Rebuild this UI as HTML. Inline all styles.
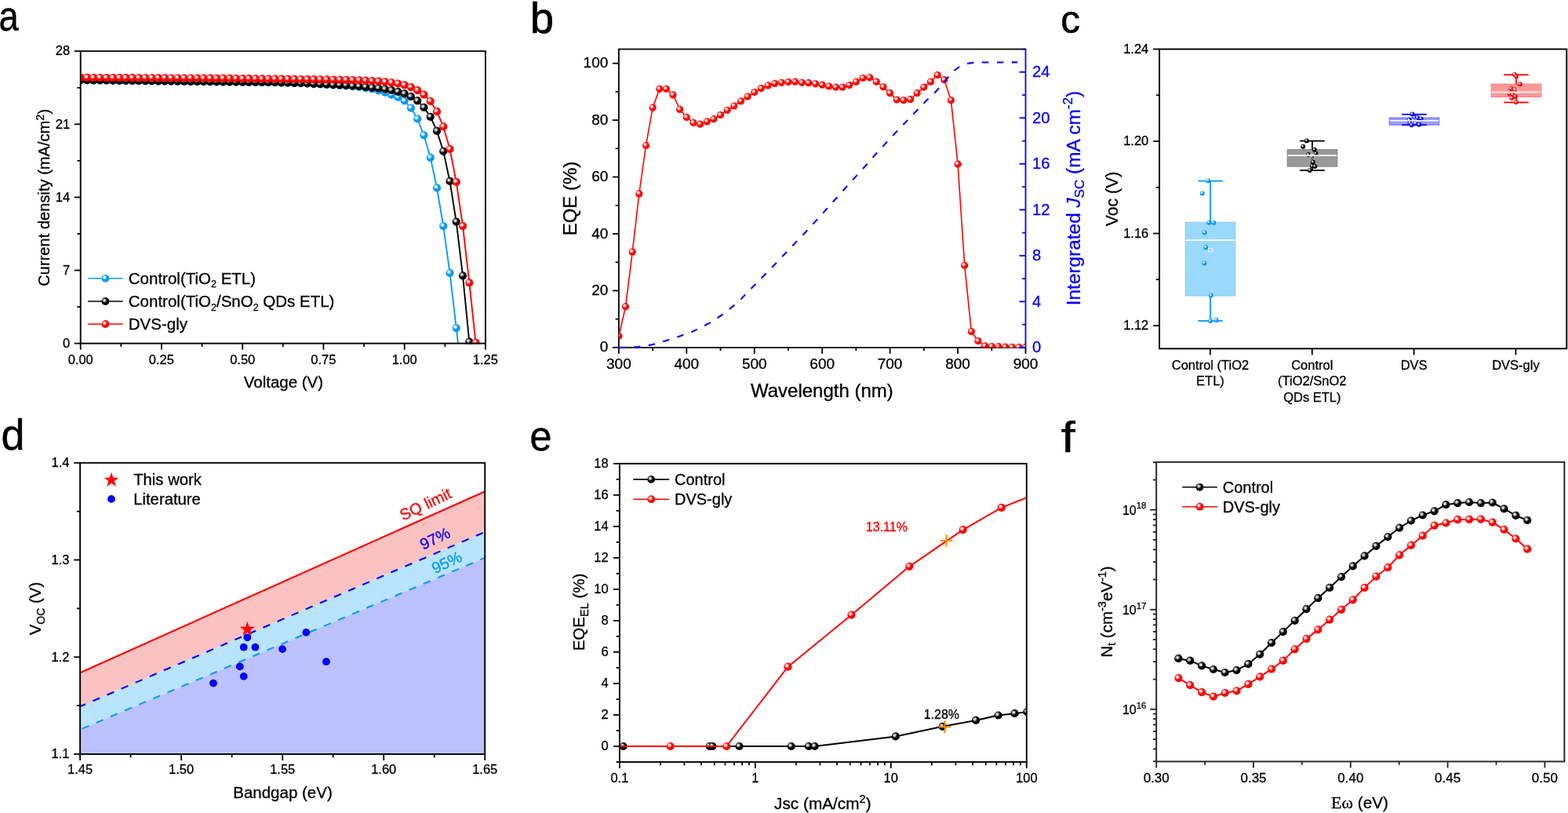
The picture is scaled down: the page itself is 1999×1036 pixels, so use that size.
<!DOCTYPE html>
<html lang="en"><head><meta charset="utf-8"><title>Figure</title>
<style>html,body{margin:0;padding:0;background:#fff;overflow:hidden;}svg{display:block;font-family:"Liberation Sans", sans-serif;}</style>
</head><body>
<svg width="1999" height="1036" viewBox="0 0 1999 1036">
<rect width="1999" height="1036" fill="#fff"/>
<defs>
<radialGradient id="gR" cx="0.375" cy="0.365" r="0.33"><stop offset="0" stop-color="#fff"/><stop offset="0.25" stop-color="#fff"/><stop offset="1" stop-color="#ff0000"/></radialGradient>
<radialGradient id="gK" cx="0.375" cy="0.365" r="0.33"><stop offset="0" stop-color="#e4e4e4"/><stop offset="0.25" stop-color="#e4e4e4"/><stop offset="1" stop-color="#000000"/></radialGradient>
<radialGradient id="gB" cx="0.375" cy="0.365" r="0.33"><stop offset="0" stop-color="#fff"/><stop offset="0.25" stop-color="#fff"/><stop offset="1" stop-color="#0899fa"/></radialGradient>
<radialGradient id="gV" cx="0.375" cy="0.365" r="0.33"><stop offset="0" stop-color="#fff"/><stop offset="0.25" stop-color="#fff"/><stop offset="1" stop-color="#0000ff"/></radialGradient>
</defs>
<clipPath id="ca"><rect x="102.7" y="65.2" width="516.2" height="373.4"/></clipPath>
<g clip-path="url(#ca)">
<polyline fill="none" stroke="#0899fa" stroke-width="1.9" stroke-linejoin="round" points="102.7,102.2 111,102.3 119.2,102.4 127.5,102.5 135.7,102.6 144,102.7 152.3,102.8 160.5,102.9 168.8,103 177,103.1 185.3,103.2 193.6,103.3 201.8,103.4 210.1,103.5 218.3,103.6 226.6,103.7 234.8,103.8 243.1,103.9 251.4,104 259.6,104.1 267.9,104.2 276.1,104.3 284.4,104.4 292.7,104.5 300.9,104.6 309.2,104.7 317.4,104.8 325.7,104.8 334,104.9 342.2,105 350.5,105.1 358.7,105.4 367,105.7 375.3,105.9 383.5,106.2 391.8,106.5 400,107 408.3,107.5 416.5,107.9 424.8,108.4 433.1,108.9 441.3,109.3 449.6,110.1 457.8,110.9 466.1,112.2 474.4,113.5 482.6,115.5 490.9,118 499.1,120.8 507.4,124 515.7,128.4 523.9,137.6 532.2,151.5 540.4,172.3 548.7,200.8 557,239.4 565.2,288.1 573.5,347.8 581.7,418.1 584,437.6"/>
<g fill="url(#gB)"><circle cx="102.7" cy="102.2" r="5.1"/><circle cx="111" cy="102.3" r="5.1"/><circle cx="119.2" cy="102.4" r="5.1"/><circle cx="127.5" cy="102.5" r="5.1"/><circle cx="135.7" cy="102.6" r="5.1"/><circle cx="144" cy="102.7" r="5.1"/><circle cx="152.3" cy="102.8" r="5.1"/><circle cx="160.5" cy="102.9" r="5.1"/><circle cx="168.8" cy="103" r="5.1"/><circle cx="177" cy="103.1" r="5.1"/><circle cx="185.3" cy="103.2" r="5.1"/><circle cx="193.6" cy="103.3" r="5.1"/><circle cx="201.8" cy="103.4" r="5.1"/><circle cx="210.1" cy="103.5" r="5.1"/><circle cx="218.3" cy="103.6" r="5.1"/><circle cx="226.6" cy="103.7" r="5.1"/><circle cx="234.8" cy="103.8" r="5.1"/><circle cx="243.1" cy="103.9" r="5.1"/><circle cx="251.4" cy="104" r="5.1"/><circle cx="259.6" cy="104.1" r="5.1"/><circle cx="267.9" cy="104.2" r="5.1"/><circle cx="276.1" cy="104.3" r="5.1"/><circle cx="284.4" cy="104.4" r="5.1"/><circle cx="292.7" cy="104.5" r="5.1"/><circle cx="300.9" cy="104.6" r="5.1"/><circle cx="309.2" cy="104.7" r="5.1"/><circle cx="317.4" cy="104.8" r="5.1"/><circle cx="325.7" cy="104.8" r="5.1"/><circle cx="334" cy="104.9" r="5.1"/><circle cx="342.2" cy="105" r="5.1"/><circle cx="350.5" cy="105.1" r="5.1"/><circle cx="358.7" cy="105.4" r="5.1"/><circle cx="367" cy="105.7" r="5.1"/><circle cx="375.3" cy="105.9" r="5.1"/><circle cx="383.5" cy="106.2" r="5.1"/><circle cx="391.8" cy="106.5" r="5.1"/><circle cx="400" cy="107" r="5.1"/><circle cx="408.3" cy="107.5" r="5.1"/><circle cx="416.5" cy="107.9" r="5.1"/><circle cx="424.8" cy="108.4" r="5.1"/><circle cx="433.1" cy="108.9" r="5.1"/><circle cx="441.3" cy="109.3" r="5.1"/><circle cx="449.6" cy="110.1" r="5.1"/><circle cx="457.8" cy="110.9" r="5.1"/><circle cx="466.1" cy="112.2" r="5.1"/><circle cx="474.4" cy="113.5" r="5.1"/><circle cx="482.6" cy="115.5" r="5.1"/><circle cx="490.9" cy="118" r="5.1"/><circle cx="499.1" cy="120.8" r="5.1"/><circle cx="507.4" cy="124" r="5.1"/><circle cx="515.7" cy="128.4" r="5.1"/><circle cx="523.9" cy="137.6" r="5.1"/><circle cx="532.2" cy="151.5" r="5.1"/><circle cx="540.4" cy="172.3" r="5.1"/><circle cx="548.7" cy="200.8" r="5.1"/><circle cx="557" cy="239.4" r="5.1"/><circle cx="565.2" cy="288.1" r="5.1"/><circle cx="573.5" cy="347.8" r="5.1"/><circle cx="581.7" cy="418.1" r="5.1"/></g>
<polyline fill="none" stroke="#000" stroke-width="1.9" stroke-linejoin="round" points="102.7,102.1 111,102.2 119.2,102.3 127.5,102.4 135.7,102.5 144,102.6 152.3,102.7 160.5,102.8 168.8,102.9 177,103 185.3,103.1 193.6,103.2 201.8,103.3 210.1,103.4 218.3,103.5 226.6,103.6 234.8,103.7 243.1,103.8 251.4,103.9 259.6,104 267.9,104.1 276.1,104.2 284.4,104.3 292.7,104.4 300.9,104.5 309.2,104.6 317.4,104.7 325.7,104.7 334,104.8 342.2,104.9 350.5,105 358.7,105.3 367,105.5 375.3,105.8 383.5,106 391.8,106.3 400,106.8 408.3,107.2 416.5,107.6 424.8,108.1 433.1,108.4 441.3,108.8 449.6,109.5 457.8,110 466.1,110.8 474.4,111.6 482.6,112.5 490.9,113.6 499.1,115 507.4,116.9 515.7,119.4 523.9,123.1 532.2,128.4 540.4,136.9 548.7,148.8 557,166.9 565.2,192.8 573.5,230.9 581.7,282.6 590,351.3 598.3,435.7"/>
<g fill="url(#gK)"><circle cx="102.7" cy="102.1" r="5.1"/><circle cx="111" cy="102.2" r="5.1"/><circle cx="119.2" cy="102.3" r="5.1"/><circle cx="127.5" cy="102.4" r="5.1"/><circle cx="135.7" cy="102.5" r="5.1"/><circle cx="144" cy="102.6" r="5.1"/><circle cx="152.3" cy="102.7" r="5.1"/><circle cx="160.5" cy="102.8" r="5.1"/><circle cx="168.8" cy="102.9" r="5.1"/><circle cx="177" cy="103" r="5.1"/><circle cx="185.3" cy="103.1" r="5.1"/><circle cx="193.6" cy="103.2" r="5.1"/><circle cx="201.8" cy="103.3" r="5.1"/><circle cx="210.1" cy="103.4" r="5.1"/><circle cx="218.3" cy="103.5" r="5.1"/><circle cx="226.6" cy="103.6" r="5.1"/><circle cx="234.8" cy="103.7" r="5.1"/><circle cx="243.1" cy="103.8" r="5.1"/><circle cx="251.4" cy="103.9" r="5.1"/><circle cx="259.6" cy="104" r="5.1"/><circle cx="267.9" cy="104.1" r="5.1"/><circle cx="276.1" cy="104.2" r="5.1"/><circle cx="284.4" cy="104.3" r="5.1"/><circle cx="292.7" cy="104.4" r="5.1"/><circle cx="300.9" cy="104.5" r="5.1"/><circle cx="309.2" cy="104.6" r="5.1"/><circle cx="317.4" cy="104.7" r="5.1"/><circle cx="325.7" cy="104.7" r="5.1"/><circle cx="334" cy="104.8" r="5.1"/><circle cx="342.2" cy="104.9" r="5.1"/><circle cx="350.5" cy="105" r="5.1"/><circle cx="358.7" cy="105.3" r="5.1"/><circle cx="367" cy="105.5" r="5.1"/><circle cx="375.3" cy="105.8" r="5.1"/><circle cx="383.5" cy="106" r="5.1"/><circle cx="391.8" cy="106.3" r="5.1"/><circle cx="400" cy="106.8" r="5.1"/><circle cx="408.3" cy="107.2" r="5.1"/><circle cx="416.5" cy="107.6" r="5.1"/><circle cx="424.8" cy="108.1" r="5.1"/><circle cx="433.1" cy="108.4" r="5.1"/><circle cx="441.3" cy="108.8" r="5.1"/><circle cx="449.6" cy="109.5" r="5.1"/><circle cx="457.8" cy="110" r="5.1"/><circle cx="466.1" cy="110.8" r="5.1"/><circle cx="474.4" cy="111.6" r="5.1"/><circle cx="482.6" cy="112.5" r="5.1"/><circle cx="490.9" cy="113.6" r="5.1"/><circle cx="499.1" cy="115" r="5.1"/><circle cx="507.4" cy="116.9" r="5.1"/><circle cx="515.7" cy="119.4" r="5.1"/><circle cx="523.9" cy="123.1" r="5.1"/><circle cx="532.2" cy="128.4" r="5.1"/><circle cx="540.4" cy="136.9" r="5.1"/><circle cx="548.7" cy="148.8" r="5.1"/><circle cx="557" cy="166.9" r="5.1"/><circle cx="565.2" cy="192.8" r="5.1"/><circle cx="573.5" cy="230.9" r="5.1"/><circle cx="581.7" cy="282.6" r="5.1"/><circle cx="590" cy="351.3" r="5.1"/><circle cx="598.3" cy="435.7" r="5.1"/></g>
<polyline fill="none" stroke="#ff0000" stroke-width="1.9" stroke-linejoin="round" points="102.7,98.9 111,98.9 119.2,99 127.5,99 135.7,99.1 144,99.1 152.3,99.1 160.5,99.2 168.8,99.2 177,99.3 185.3,99.3 193.6,99.3 201.8,99.4 210.1,99.4 218.3,99.5 226.6,99.5 234.8,99.6 243.1,99.6 251.4,99.6 259.6,99.7 267.9,99.7 276.1,99.8 284.4,99.8 292.7,99.9 300.9,100 309.2,100.1 317.4,100.2 325.7,100.3 334,100.4 342.2,100.5 350.5,100.6 358.7,100.7 367,100.8 375.3,100.9 383.5,101 391.8,101.1 400,101.2 408.3,101.3 416.5,101.4 424.8,101.5 433.1,101.6 441.3,101.8 449.6,102 457.8,102.3 466.1,102.7 474.4,103.1 482.6,103.7 490.9,104.3 499.1,105.3 507.4,106.5 515.7,108.4 523.9,111.1 532.2,115.2 540.4,120.7 548.7,129 557,142.2 565.2,161.4 573.5,190 581.7,231.9 590,288.1 598.3,360.4 606.5,436.7"/>
<g fill="url(#gR)"><circle cx="102.7" cy="98.9" r="5.1"/><circle cx="111" cy="98.9" r="5.1"/><circle cx="119.2" cy="99" r="5.1"/><circle cx="127.5" cy="99" r="5.1"/><circle cx="135.7" cy="99.1" r="5.1"/><circle cx="144" cy="99.1" r="5.1"/><circle cx="152.3" cy="99.1" r="5.1"/><circle cx="160.5" cy="99.2" r="5.1"/><circle cx="168.8" cy="99.2" r="5.1"/><circle cx="177" cy="99.3" r="5.1"/><circle cx="185.3" cy="99.3" r="5.1"/><circle cx="193.6" cy="99.3" r="5.1"/><circle cx="201.8" cy="99.4" r="5.1"/><circle cx="210.1" cy="99.4" r="5.1"/><circle cx="218.3" cy="99.5" r="5.1"/><circle cx="226.6" cy="99.5" r="5.1"/><circle cx="234.8" cy="99.6" r="5.1"/><circle cx="243.1" cy="99.6" r="5.1"/><circle cx="251.4" cy="99.6" r="5.1"/><circle cx="259.6" cy="99.7" r="5.1"/><circle cx="267.9" cy="99.7" r="5.1"/><circle cx="276.1" cy="99.8" r="5.1"/><circle cx="284.4" cy="99.8" r="5.1"/><circle cx="292.7" cy="99.9" r="5.1"/><circle cx="300.9" cy="100" r="5.1"/><circle cx="309.2" cy="100.1" r="5.1"/><circle cx="317.4" cy="100.2" r="5.1"/><circle cx="325.7" cy="100.3" r="5.1"/><circle cx="334" cy="100.4" r="5.1"/><circle cx="342.2" cy="100.5" r="5.1"/><circle cx="350.5" cy="100.6" r="5.1"/><circle cx="358.7" cy="100.7" r="5.1"/><circle cx="367" cy="100.8" r="5.1"/><circle cx="375.3" cy="100.9" r="5.1"/><circle cx="383.5" cy="101" r="5.1"/><circle cx="391.8" cy="101.1" r="5.1"/><circle cx="400" cy="101.2" r="5.1"/><circle cx="408.3" cy="101.3" r="5.1"/><circle cx="416.5" cy="101.4" r="5.1"/><circle cx="424.8" cy="101.5" r="5.1"/><circle cx="433.1" cy="101.6" r="5.1"/><circle cx="441.3" cy="101.8" r="5.1"/><circle cx="449.6" cy="102" r="5.1"/><circle cx="457.8" cy="102.3" r="5.1"/><circle cx="466.1" cy="102.7" r="5.1"/><circle cx="474.4" cy="103.1" r="5.1"/><circle cx="482.6" cy="103.7" r="5.1"/><circle cx="490.9" cy="104.3" r="5.1"/><circle cx="499.1" cy="105.3" r="5.1"/><circle cx="507.4" cy="106.5" r="5.1"/><circle cx="515.7" cy="108.4" r="5.1"/><circle cx="523.9" cy="111.1" r="5.1"/><circle cx="532.2" cy="115.2" r="5.1"/><circle cx="540.4" cy="120.7" r="5.1"/><circle cx="548.7" cy="129" r="5.1"/><circle cx="557" cy="142.2" r="5.1"/><circle cx="565.2" cy="161.4" r="5.1"/><circle cx="573.5" cy="190" r="5.1"/><circle cx="581.7" cy="231.9" r="5.1"/><circle cx="590" cy="288.1" r="5.1"/><circle cx="598.3" cy="360.4" r="5.1"/><circle cx="606.5" cy="436.7" r="5.1"/></g>
</g>
<rect x="102.7" y="65.2" width="516.2" height="372.4" fill="none" stroke="#000" stroke-width="1.9"/>
<line x1="102.7" y1="437.6" x2="102.7" y2="445.6" stroke="#000" stroke-width="1.8"/>
<text x="102.7" y="463.8" font-size="16.5" text-anchor="middle" fill="#000" stroke="#000" stroke-width="0.3">0.00</text>
<line x1="154.3" y1="437.6" x2="154.3" y2="441.9" stroke="#000" stroke-width="1.8"/>
<line x1="205.9" y1="437.6" x2="205.9" y2="445.6" stroke="#000" stroke-width="1.8"/>
<text x="205.9" y="463.8" font-size="16.5" text-anchor="middle" fill="#000" stroke="#000" stroke-width="0.3">0.25</text>
<line x1="257.6" y1="437.6" x2="257.6" y2="441.9" stroke="#000" stroke-width="1.8"/>
<line x1="309.2" y1="437.6" x2="309.2" y2="445.6" stroke="#000" stroke-width="1.8"/>
<text x="309.2" y="463.8" font-size="16.5" text-anchor="middle" fill="#000" stroke="#000" stroke-width="0.3">0.50</text>
<line x1="360.8" y1="437.6" x2="360.8" y2="441.9" stroke="#000" stroke-width="1.8"/>
<line x1="412.4" y1="437.6" x2="412.4" y2="445.6" stroke="#000" stroke-width="1.8"/>
<text x="412.4" y="463.8" font-size="16.5" text-anchor="middle" fill="#000" stroke="#000" stroke-width="0.3">0.75</text>
<line x1="464" y1="437.6" x2="464" y2="441.9" stroke="#000" stroke-width="1.8"/>
<line x1="515.7" y1="437.6" x2="515.7" y2="445.6" stroke="#000" stroke-width="1.8"/>
<text x="515.7" y="463.8" font-size="16.5" text-anchor="middle" fill="#000" stroke="#000" stroke-width="0.3">1.00</text>
<line x1="567.3" y1="437.6" x2="567.3" y2="441.9" stroke="#000" stroke-width="1.8"/>
<line x1="618.9" y1="437.6" x2="618.9" y2="445.6" stroke="#000" stroke-width="1.8"/>
<text x="618.9" y="463.8" font-size="16.5" text-anchor="middle" fill="#000" stroke="#000" stroke-width="0.3">1.25</text>
<line x1="94.7" y1="437.6" x2="102.7" y2="437.6" stroke="#000" stroke-width="1.8"/>
<text x="89.2" y="442.8" font-size="16.5" text-anchor="end" fill="#000" stroke="#000" stroke-width="0.3">0</text>
<line x1="98.4" y1="391.1" x2="102.7" y2="391.1" stroke="#000" stroke-width="1.8"/>
<line x1="94.7" y1="344.5" x2="102.7" y2="344.5" stroke="#000" stroke-width="1.8"/>
<text x="89.2" y="349.7" font-size="16.5" text-anchor="end" fill="#000" stroke="#000" stroke-width="0.3">7</text>
<line x1="98.4" y1="298" x2="102.7" y2="298" stroke="#000" stroke-width="1.8"/>
<line x1="94.7" y1="251.4" x2="102.7" y2="251.4" stroke="#000" stroke-width="1.8"/>
<text x="89.2" y="256.6" font-size="16.5" text-anchor="end" fill="#000" stroke="#000" stroke-width="0.3">14</text>
<line x1="98.4" y1="204.8" x2="102.7" y2="204.8" stroke="#000" stroke-width="1.8"/>
<line x1="94.7" y1="158.3" x2="102.7" y2="158.3" stroke="#000" stroke-width="1.8"/>
<text x="89.2" y="163.5" font-size="16.5" text-anchor="end" fill="#000" stroke="#000" stroke-width="0.3">21</text>
<line x1="98.4" y1="111.8" x2="102.7" y2="111.8" stroke="#000" stroke-width="1.8"/>
<line x1="94.7" y1="65.2" x2="102.7" y2="65.2" stroke="#000" stroke-width="1.8"/>
<text x="89.2" y="70.4" font-size="16.5" text-anchor="end" fill="#000" stroke="#000" stroke-width="0.3">28</text>
<text x="361.4" y="494.4" font-size="20.5" text-anchor="middle" fill="#000" stroke="#000" stroke-width="0.3">Voltage (V)</text>
<text transform="translate(63.4,251.8) rotate(-90)" font-size="20.1" text-anchor="middle" stroke="#000" stroke-width="0.3">Current density (mA/cm<tspan font-size="14.5" dy="-7.5">2</tspan><tspan dy="7.5">)</tspan></text>
<line x1="112" y1="354.8" x2="156.7" y2="354.8" stroke="#0899fa" stroke-width="1.6"/>
<g fill="url(#gB)"><circle cx="134.4" cy="354.8" r="4.9"/></g>
<text x="163.8" y="361.8" font-size="20.5" text-anchor="start" fill="#000" stroke="#000" stroke-width="0.3">Control(TiO<tspan font-size="12.5" dy="4.5">2</tspan><tspan dy="-4.5"> ETL)</tspan></text>
<line x1="112" y1="384" x2="156.7" y2="384" stroke="#000" stroke-width="1.6"/>
<g fill="url(#gK)"><circle cx="134.4" cy="384" r="4.9"/></g>
<text x="163.8" y="391" font-size="20.5" text-anchor="start" fill="#000" stroke="#000" stroke-width="0.3">Control(TiO<tspan font-size="12.5" dy="4.5">2</tspan><tspan dy="-4.5">/SnO</tspan><tspan font-size="12.5" dy="4.5">2</tspan><tspan dy="-4.5"> QDs ETL)</tspan></text>
<line x1="112" y1="413" x2="156.7" y2="413" stroke="#ff0000" stroke-width="1.6"/>
<g fill="url(#gR)"><circle cx="134.4" cy="413" r="4.9"/></g>
<text x="163.8" y="420" font-size="20.5" text-anchor="start" fill="#000" stroke="#000" stroke-width="0.3">DVS-gly</text>
<text transform="translate(-1.5,39.2) scale(0.84,1)" font-size="54" text-anchor="start" stroke="#000" stroke-width="0.4">a</text>
<clipPath id="cb"><rect x="788.9" y="62.6" width="518.6" height="380.4"/></clipPath>
<line x1="788.9" y1="62.6" x2="788.9" y2="443.7" stroke="#000" stroke-width="1.8"/>
<line x1="788" y1="442.8" x2="1307.5" y2="442.8" stroke="#000" stroke-width="1.8"/>
<line x1="788" y1="62.6" x2="1307.5" y2="62.6" stroke="#000" stroke-width="1.8"/>
<polyline fill="none" stroke="#ff0000" stroke-width="1.6" stroke-linejoin="round" points="788.9,428.3 797.5,390.7 806.2,321.1 814.8,246.9 823.5,185.4 832.1,137.2 840.8,113.3 849.4,113.3 858,120.9 866.7,139.4 875.3,149.5 884,156.4 892.6,158.2 901.3,154.9 909.9,151.7 918.5,146.6 927.2,140.5 935.8,135 944.5,128.9 953.1,123.1 961.8,117.6 970.4,112.6 979.1,108.9 987.7,106.4 996.3,105.3 1005,104.6 1013.6,104.2 1022.3,105.3 1030.9,105.7 1039.6,106.8 1048.2,108.2 1056.8,110 1065.5,111.1 1074.1,111.1 1082.8,108.6 1091.4,104.2 1100.1,99.5 1108.7,98.8 1117.3,104.2 1126,110.8 1134.6,118.7 1143.3,127.1 1151.9,127.8 1160.6,126.7 1169.2,118.7 1177.8,111.1 1186.5,104.2 1195.1,95.6 1203.8,101.7 1212.4,127.8 1221.1,209.2 1229.7,338.2 1238.4,422.5 1247,434.5 1255.6,440.8 1264.3,441.5 1272.9,441.7 1281.6,442.1 1290.2,442.3 1298.9,442.4 1307.5,442.6" clip-path="url(#cb)"/>
<g clip-path="url(#cb)">
<g fill="url(#gR)"><circle cx="788.9" cy="428.3" r="4.6"/><circle cx="797.5" cy="390.7" r="4.6"/><circle cx="806.2" cy="321.1" r="4.6"/><circle cx="814.8" cy="246.9" r="4.6"/><circle cx="823.5" cy="185.4" r="4.6"/><circle cx="832.1" cy="137.2" r="4.6"/><circle cx="840.8" cy="113.3" r="4.6"/><circle cx="849.4" cy="113.3" r="4.6"/><circle cx="858" cy="120.9" r="4.6"/><circle cx="866.7" cy="139.4" r="4.6"/><circle cx="875.3" cy="149.5" r="4.6"/><circle cx="884" cy="156.4" r="4.6"/><circle cx="892.6" cy="158.2" r="4.6"/><circle cx="901.3" cy="154.9" r="4.6"/><circle cx="909.9" cy="151.7" r="4.6"/><circle cx="918.5" cy="146.6" r="4.6"/><circle cx="927.2" cy="140.5" r="4.6"/><circle cx="935.8" cy="135" r="4.6"/><circle cx="944.5" cy="128.9" r="4.6"/><circle cx="953.1" cy="123.1" r="4.6"/><circle cx="961.8" cy="117.6" r="4.6"/><circle cx="970.4" cy="112.6" r="4.6"/><circle cx="979.1" cy="108.9" r="4.6"/><circle cx="987.7" cy="106.4" r="4.6"/><circle cx="996.3" cy="105.3" r="4.6"/><circle cx="1005" cy="104.6" r="4.6"/><circle cx="1013.6" cy="104.2" r="4.6"/><circle cx="1022.3" cy="105.3" r="4.6"/><circle cx="1030.9" cy="105.7" r="4.6"/><circle cx="1039.6" cy="106.8" r="4.6"/><circle cx="1048.2" cy="108.2" r="4.6"/><circle cx="1056.8" cy="110" r="4.6"/><circle cx="1065.5" cy="111.1" r="4.6"/><circle cx="1074.1" cy="111.1" r="4.6"/><circle cx="1082.8" cy="108.6" r="4.6"/><circle cx="1091.4" cy="104.2" r="4.6"/><circle cx="1100.1" cy="99.5" r="4.6"/><circle cx="1108.7" cy="98.8" r="4.6"/><circle cx="1117.3" cy="104.2" r="4.6"/><circle cx="1126" cy="110.8" r="4.6"/><circle cx="1134.6" cy="118.7" r="4.6"/><circle cx="1143.3" cy="127.1" r="4.6"/><circle cx="1151.9" cy="127.8" r="4.6"/><circle cx="1160.6" cy="126.7" r="4.6"/><circle cx="1169.2" cy="118.7" r="4.6"/><circle cx="1177.8" cy="111.1" r="4.6"/><circle cx="1186.5" cy="104.2" r="4.6"/><circle cx="1195.1" cy="95.6" r="4.6"/><circle cx="1203.8" cy="101.7" r="4.6"/><circle cx="1212.4" cy="127.8" r="4.6"/><circle cx="1221.1" cy="209.2" r="4.6"/><circle cx="1229.7" cy="338.2" r="4.6"/><circle cx="1238.4" cy="422.5" r="4.6"/><circle cx="1247" cy="434.5" r="4.6"/><circle cx="1255.6" cy="440.8" r="4.6"/><circle cx="1264.3" cy="441.5" r="4.6"/><circle cx="1272.9" cy="441.7" r="4.6"/><circle cx="1281.6" cy="442.1" r="4.6"/><circle cx="1290.2" cy="442.3" r="4.6"/><circle cx="1298.9" cy="442.4" r="4.6"/><circle cx="1307.5" cy="442.6" r="4.6"/></g>
</g>
<line x1="1307.5" y1="61.7" x2="1307.5" y2="443.7" stroke="#0000ff" stroke-width="1.8"/>
<line x1="788.9" y1="442.8" x2="788.9" y2="450.8" stroke="#000" stroke-width="1.8"/>
<text x="788.9" y="470.1" font-size="19" text-anchor="middle" fill="#000" stroke="#000" stroke-width="0.3">300</text>
<line x1="832.1" y1="442.8" x2="832.1" y2="447.1" stroke="#000" stroke-width="1.8"/>
<line x1="875.3" y1="442.8" x2="875.3" y2="450.8" stroke="#000" stroke-width="1.8"/>
<text x="875.3" y="470.1" font-size="19" text-anchor="middle" fill="#000" stroke="#000" stroke-width="0.3">400</text>
<line x1="918.5" y1="442.8" x2="918.5" y2="447.1" stroke="#000" stroke-width="1.8"/>
<line x1="961.8" y1="442.8" x2="961.8" y2="450.8" stroke="#000" stroke-width="1.8"/>
<text x="961.8" y="470.1" font-size="19" text-anchor="middle" fill="#000" stroke="#000" stroke-width="0.3">500</text>
<line x1="1005" y1="442.8" x2="1005" y2="447.1" stroke="#000" stroke-width="1.8"/>
<line x1="1048.2" y1="442.8" x2="1048.2" y2="450.8" stroke="#000" stroke-width="1.8"/>
<text x="1048.2" y="470.1" font-size="19" text-anchor="middle" fill="#000" stroke="#000" stroke-width="0.3">600</text>
<line x1="1091.4" y1="442.8" x2="1091.4" y2="447.1" stroke="#000" stroke-width="1.8"/>
<line x1="1134.6" y1="442.8" x2="1134.6" y2="450.8" stroke="#000" stroke-width="1.8"/>
<text x="1134.6" y="470.1" font-size="19" text-anchor="middle" fill="#000" stroke="#000" stroke-width="0.3">700</text>
<line x1="1177.8" y1="442.8" x2="1177.8" y2="447.1" stroke="#000" stroke-width="1.8"/>
<line x1="1221.1" y1="442.8" x2="1221.1" y2="450.8" stroke="#000" stroke-width="1.8"/>
<text x="1221.1" y="470.1" font-size="19" text-anchor="middle" fill="#000" stroke="#000" stroke-width="0.3">800</text>
<line x1="1264.3" y1="442.8" x2="1264.3" y2="447.1" stroke="#000" stroke-width="1.8"/>
<line x1="1307.5" y1="442.8" x2="1307.5" y2="450.8" stroke="#000" stroke-width="1.8"/>
<text x="1307.5" y="470.1" font-size="19" text-anchor="middle" fill="#000" stroke="#000" stroke-width="0.3">900</text>
<line x1="780.9" y1="442.8" x2="788.9" y2="442.8" stroke="#000" stroke-width="1.8"/>
<text x="775.3" y="448.4" font-size="19" text-anchor="end" fill="#000" stroke="#000" stroke-width="0.3">0</text>
<line x1="784.6" y1="406.6" x2="788.9" y2="406.6" stroke="#000" stroke-width="1.8"/>
<line x1="780.9" y1="370.4" x2="788.9" y2="370.4" stroke="#000" stroke-width="1.8"/>
<text x="775.3" y="376" font-size="19" text-anchor="end" fill="#000" stroke="#000" stroke-width="0.3">20</text>
<line x1="784.6" y1="334.2" x2="788.9" y2="334.2" stroke="#000" stroke-width="1.8"/>
<line x1="780.9" y1="298" x2="788.9" y2="298" stroke="#000" stroke-width="1.8"/>
<text x="775.3" y="303.6" font-size="19" text-anchor="end" fill="#000" stroke="#000" stroke-width="0.3">40</text>
<line x1="784.6" y1="261.8" x2="788.9" y2="261.8" stroke="#000" stroke-width="1.8"/>
<line x1="780.9" y1="225.5" x2="788.9" y2="225.5" stroke="#000" stroke-width="1.8"/>
<text x="775.3" y="231.1" font-size="19" text-anchor="end" fill="#000" stroke="#000" stroke-width="0.3">60</text>
<line x1="784.6" y1="189.3" x2="788.9" y2="189.3" stroke="#000" stroke-width="1.8"/>
<line x1="780.9" y1="153.1" x2="788.9" y2="153.1" stroke="#000" stroke-width="1.8"/>
<text x="775.3" y="158.7" font-size="19" text-anchor="end" fill="#000" stroke="#000" stroke-width="0.3">80</text>
<line x1="784.6" y1="116.9" x2="788.9" y2="116.9" stroke="#000" stroke-width="1.8"/>
<line x1="780.9" y1="80.7" x2="788.9" y2="80.7" stroke="#000" stroke-width="1.8"/>
<text x="775.3" y="86.3" font-size="19" text-anchor="end" fill="#000" stroke="#000" stroke-width="0.3">100</text>
<line x1="1299.5" y1="442.8" x2="1307.5" y2="442.8" stroke="#0000ff" stroke-width="1.8"/>
<text x="1316" y="449" font-size="20.3" text-anchor="start" fill="#0000ff" stroke="#0000ff" stroke-width="0.3">0</text>
<line x1="1303.2" y1="413.6" x2="1307.5" y2="413.6" stroke="#0000ff" stroke-width="1.8"/>
<line x1="1299.5" y1="384.3" x2="1307.5" y2="384.3" stroke="#0000ff" stroke-width="1.8"/>
<text x="1316" y="390.5" font-size="20.3" text-anchor="start" fill="#0000ff" stroke="#0000ff" stroke-width="0.3">4</text>
<line x1="1303.2" y1="355.1" x2="1307.5" y2="355.1" stroke="#0000ff" stroke-width="1.8"/>
<line x1="1299.5" y1="325.8" x2="1307.5" y2="325.8" stroke="#0000ff" stroke-width="1.8"/>
<text x="1316" y="332" font-size="20.3" text-anchor="start" fill="#0000ff" stroke="#0000ff" stroke-width="0.3">8</text>
<line x1="1303.2" y1="296.6" x2="1307.5" y2="296.6" stroke="#0000ff" stroke-width="1.8"/>
<line x1="1299.5" y1="267.3" x2="1307.5" y2="267.3" stroke="#0000ff" stroke-width="1.8"/>
<text x="1316" y="273.5" font-size="20.3" text-anchor="start" fill="#0000ff" stroke="#0000ff" stroke-width="0.3">12</text>
<line x1="1303.2" y1="238.1" x2="1307.5" y2="238.1" stroke="#0000ff" stroke-width="1.8"/>
<line x1="1299.5" y1="208.8" x2="1307.5" y2="208.8" stroke="#0000ff" stroke-width="1.8"/>
<text x="1316" y="215" font-size="20.3" text-anchor="start" fill="#0000ff" stroke="#0000ff" stroke-width="0.3">16</text>
<line x1="1303.2" y1="179.6" x2="1307.5" y2="179.6" stroke="#0000ff" stroke-width="1.8"/>
<line x1="1299.5" y1="150.3" x2="1307.5" y2="150.3" stroke="#0000ff" stroke-width="1.8"/>
<text x="1316" y="156.5" font-size="20.3" text-anchor="start" fill="#0000ff" stroke="#0000ff" stroke-width="0.3">20</text>
<line x1="1303.2" y1="121.1" x2="1307.5" y2="121.1" stroke="#0000ff" stroke-width="1.8"/>
<line x1="1299.5" y1="91.8" x2="1307.5" y2="91.8" stroke="#0000ff" stroke-width="1.8"/>
<text x="1316" y="98" font-size="20.3" text-anchor="start" fill="#0000ff" stroke="#0000ff" stroke-width="0.3">24</text>
<line x1="1303.2" y1="62.6" x2="1307.5" y2="62.6" stroke="#0000ff" stroke-width="1.8"/>
<polyline fill="none" stroke="#0000ff" stroke-width="2.1" stroke-linejoin="round" points="788.9,442.8 792.4,442.7 795.8,442.7 799.3,442.6 802.7,442.6 806.2,442.5 809.6,442.2 813.1,442 816.6,441.6 820,441 823.5,440.5 826.9,440 830.4,439.4 833.8,438.6 837.3,437.6 840.8,436.5 844.2,435.5 847.7,434.5 851.1,433.4 854.6,432.3 858,431.3 861.5,430.2 865,429 868.4,427.8 871.9,426.6 875.3,425.4 878.8,424.1 882.2,422.7 885.7,421.1 889.2,419.5 892.6,417.9 896.1,416.1 899.5,414.3 903,412.4 906.4,410.6 909.9,408.4 913.4,406.1 916.8,403.7 920.3,401.3 923.7,398.6 927.2,396 930.7,393.3 934.1,390.4 937.6,387.4 941,384.4 944.5,381.4 947.9,377.8 951.4,374.2 954.9,370.6 958.3,367.1 961.8,363.6 965.2,360.1 968.7,356.6 972.1,353.1 975.6,349.6 979.1,346.1 982.5,342.5 986,338.9 989.4,335.2 992.9,331.6 996.3,327.9 999.8,324.2 1003.3,320.6 1006.7,317 1010.2,313.4 1013.6,309.7 1017.1,306.1 1020.5,302.5 1024,298.9 1027.5,295.3 1030.9,291.6 1034.4,287.8 1037.8,284 1041.3,280.2 1044.7,276.4 1048.2,272.6 1051.7,268.8 1055.1,265 1058.6,261.1 1062,257.2 1065.5,253.3 1068.9,249.4 1072.4,245.6 1075.9,241.7 1079.3,237.8 1082.8,234 1086.2,230.2 1089.7,226.4 1093.1,222.6 1096.6,218.8 1100.1,215 1103.5,211.2 1107,207.2 1110.4,203.3 1113.9,199.3 1117.3,195.5 1120.8,191.7 1124.3,188 1127.7,184.2 1131.2,180.4 1134.6,176.7 1138.1,173 1141.5,169.4 1145,165.8 1148.5,162.2 1151.9,158.5 1155.4,154.9 1158.8,151.3 1162.3,147.6 1165.7,144 1169.2,140.4 1172.7,136.8 1176.1,133.1 1179.6,129.6 1183,126.3 1186.5,122.9 1190,119.6 1193.4,116.2 1196.9,112.5 1200.3,108.4 1203.8,104.3 1207.2,100.2 1210.7,96.3 1214.2,92.5 1217.6,89 1221.1,86.5 1224.5,84.2 1228,82.7 1231.4,81.6 1234.9,80.8 1238.4,80.1 1241.8,79.9 1245.3,79.7 1248.7,79.6 1252.2,79.5 1255.6,79.5 1259.1,79.5 1262.6,79.5 1266,79.5 1269.5,79.5 1272.9,79.5 1276.4,79.5 1279.8,79.5 1283.3,79.5 1286.8,79.4 1290.2,79.4 1293.7,79.4 1297.1,79.4" stroke-dasharray="8.5 10.5"/>
<text x="1047.9" y="506" font-size="24" text-anchor="middle" fill="#000" stroke="#000" stroke-width="0.3">Wavelength (nm)</text>
<text transform="translate(734.6,253) rotate(-90)" font-size="24" text-anchor="middle" stroke="#000" stroke-width="0.3">EQE (%)</text>
<text transform="translate(1376.6,252.6) rotate(-90)" font-size="24.4" text-anchor="middle" fill="#0000ff" stroke="#0000ff" stroke-width="0.3">Intergrated <tspan font-style="italic">J</tspan><tspan font-size="17" dy="5.5">SC</tspan><tspan dy="-5.5"> (mA cm</tspan><tspan font-size="17" dy="-9.5">-2</tspan><tspan dy="9.5">)</tspan></text>
<text transform="translate(676.1,41.9) scale(0.963,1)" font-size="56" text-anchor="start" stroke="#000" stroke-width="0.7">b</text>
<rect x="1511.3" y="283.3" width="63.6" height="93.7" fill="#9bd9fd" stroke="#7fcdfb" stroke-width="1"/>
<line x1="1543.1" y1="230.6" x2="1543.1" y2="283.3" stroke="#0899fa" stroke-width="1.8"/>
<line x1="1543.1" y1="377" x2="1543.1" y2="408.9" stroke="#0899fa" stroke-width="1.8"/>
<line x1="1527.3" y1="230.6" x2="1558.9" y2="230.6" stroke="#0899fa" stroke-width="1.8"/>
<line x1="1527.3" y1="408.9" x2="1558.9" y2="408.9" stroke="#0899fa" stroke-width="1.8"/>
<g fill="url(#gB)"><circle cx="1540.2" cy="230.4" r="2.95"/><circle cx="1532.8" cy="246.4" r="2.95"/><circle cx="1541.1" cy="283.7" r="2.95"/><circle cx="1547.3" cy="283.7" r="2.95"/><circle cx="1535.7" cy="296.4" r="2.95"/><circle cx="1537.3" cy="315.2" r="2.95"/><circle cx="1535.3" cy="335.4" r="2.95"/><circle cx="1543.9" cy="376.5" r="2.95"/><circle cx="1543.1" cy="408.9" r="2.95"/><circle cx="1550.6" cy="408" r="2.95"/></g>
<line x1="1511.8" y1="306.1" x2="1574.4" y2="306.1" stroke="#fff" stroke-width="1.6"/>
<rect x="1540.8" y="316.3" width="4.6" height="4.6" fill="none" stroke="#fff" stroke-opacity="0.9" stroke-width="0.9"/>
<rect x="1641.2" y="190.7" width="63.6" height="21.4" fill="#999999" stroke="#7f7f7f" stroke-width="1"/>
<line x1="1673" y1="179.6" x2="1673" y2="190.7" stroke="#000" stroke-width="1.8"/>
<line x1="1673" y1="212.1" x2="1673" y2="217.1" stroke="#000" stroke-width="1.8"/>
<line x1="1657.2" y1="179.6" x2="1688.8" y2="179.6" stroke="#000" stroke-width="1.8"/>
<line x1="1657.2" y1="217.1" x2="1688.8" y2="217.1" stroke="#000" stroke-width="1.8"/>
<g fill="url(#gK)"><circle cx="1665.9" cy="179.4" r="2.95"/><circle cx="1661.3" cy="186.7" r="2.95"/><circle cx="1675.8" cy="190.7" r="2.95"/><circle cx="1667.9" cy="196.9" r="2.95"/><circle cx="1677.4" cy="195.7" r="2.95"/><circle cx="1672.9" cy="199.7" r="2.95"/><circle cx="1673.9" cy="206.7" r="2.95"/><circle cx="1672.9" cy="211.7" r="2.95"/><circle cx="1676.4" cy="212.1" r="2.95"/><circle cx="1669.9" cy="217.1" r="2.95"/></g>
<line x1="1641.7" y1="198.1" x2="1704.3" y2="198.1" stroke="#fff" stroke-width="1.6"/>
<rect x="1670.7" y="196.7" width="4.6" height="4.6" fill="none" stroke="#fff" stroke-opacity="0.9" stroke-width="0.9"/>
<rect x="1771.2" y="150" width="63.6" height="9.2" fill="#9b9bff" stroke="#7070ff" stroke-width="1"/>
<line x1="1803" y1="145.8" x2="1803" y2="150" stroke="#0000ff" stroke-width="1.8"/>
<line x1="1803" y1="159.2" x2="1803" y2="159.2" stroke="#0000ff" stroke-width="1.8"/>
<line x1="1787.2" y1="145.8" x2="1818.8" y2="145.8" stroke="#0000ff" stroke-width="1.8"/>
<line x1="1787.2" y1="159.2" x2="1818.8" y2="159.2" stroke="#0000ff" stroke-width="1.8"/>
<g fill="url(#gV)"><circle cx="1800.6" cy="145.4" r="2.95"/><circle cx="1803.6" cy="149.8" r="2.95"/><circle cx="1807.2" cy="150.2" r="2.95"/><circle cx="1811.6" cy="151.4" r="2.95"/><circle cx="1796.6" cy="152.8" r="2.95"/><circle cx="1797.6" cy="156.8" r="2.95"/><circle cx="1800.6" cy="157.8" r="2.95"/><circle cx="1799.6" cy="159.2" r="2.95"/><circle cx="1804.6" cy="157.4" r="2.95"/><circle cx="1809.2" cy="158.8" r="2.95"/></g>
<line x1="1771.7" y1="153.8" x2="1834.3" y2="153.8" stroke="#fff" stroke-width="1.6"/>
<rect x="1800.7" y="151.7" width="4.6" height="4.6" fill="none" stroke="#fff" stroke-opacity="0.9" stroke-width="0.9"/>
<rect x="1901.2" y="107.1" width="63.6" height="16.4" fill="#ff9a9a" stroke="#ff7a7a" stroke-width="1"/>
<line x1="1933" y1="95.3" x2="1933" y2="107.1" stroke="#ff0000" stroke-width="1.8"/>
<line x1="1933" y1="123.5" x2="1933" y2="130.5" stroke="#ff0000" stroke-width="1.8"/>
<line x1="1917.2" y1="95.3" x2="1948.8" y2="95.3" stroke="#ff0000" stroke-width="1.8"/>
<line x1="1917.2" y1="130.5" x2="1948.8" y2="130.5" stroke="#ff0000" stroke-width="1.8"/>
<g fill="url(#gR)"><circle cx="1930.9" cy="94.9" r="2.95"/><circle cx="1932.9" cy="97.3" r="2.95"/><circle cx="1937.7" cy="107.3" r="2.95"/><circle cx="1926.3" cy="113.1" r="2.95"/><circle cx="1930.9" cy="114.1" r="2.95"/><circle cx="1924.9" cy="119.5" r="2.95"/><circle cx="1928.3" cy="120.5" r="2.95"/><circle cx="1931.7" cy="122.9" r="2.95"/><circle cx="1927.3" cy="124.9" r="2.95"/><circle cx="1932.9" cy="130.3" r="2.95"/></g>
<line x1="1901.7" y1="117.5" x2="1964.3" y2="117.5" stroke="#fff" stroke-width="1.6"/>
<rect x="1930.7" y="113.7" width="4.6" height="4.6" fill="none" stroke="#fff" stroke-opacity="0.9" stroke-width="0.9"/>
<rect x="1478.1" y="62.6" width="519.2" height="381.7" fill="none" stroke="#000" stroke-width="1.9"/>
<line x1="1470.1" y1="62.6" x2="1478.1" y2="62.6" stroke="#000" stroke-width="1.8"/>
<text x="1464.3" y="67.8" font-size="16.5" text-anchor="end" fill="#000" stroke="#000" stroke-width="0.3">1.24</text>
<line x1="1473.8" y1="121.3" x2="1478.1" y2="121.3" stroke="#000" stroke-width="1.8"/>
<line x1="1470.1" y1="180" x2="1478.1" y2="180" stroke="#000" stroke-width="1.8"/>
<text x="1464.3" y="185.2" font-size="16.5" text-anchor="end" fill="#000" stroke="#000" stroke-width="0.3">1.20</text>
<line x1="1473.8" y1="238.8" x2="1478.1" y2="238.8" stroke="#000" stroke-width="1.8"/>
<line x1="1470.1" y1="297.5" x2="1478.1" y2="297.5" stroke="#000" stroke-width="1.8"/>
<text x="1464.3" y="302.7" font-size="16.5" text-anchor="end" fill="#000" stroke="#000" stroke-width="0.3">1.16</text>
<line x1="1473.8" y1="356.2" x2="1478.1" y2="356.2" stroke="#000" stroke-width="1.8"/>
<line x1="1470.1" y1="414.9" x2="1478.1" y2="414.9" stroke="#000" stroke-width="1.8"/>
<text x="1464.3" y="420.1" font-size="16.5" text-anchor="end" fill="#000" stroke="#000" stroke-width="0.3">1.12</text>
<line x1="1543" y1="444.3" x2="1543" y2="452.3" stroke="#000" stroke-width="1.8"/>
<text x="1543" y="470.8" font-size="16.5" text-anchor="middle" fill="#000" stroke="#000" stroke-width="0.3">Control (TiO2</text>
<text x="1543" y="491.2" font-size="16.5" text-anchor="middle" fill="#000" stroke="#000" stroke-width="0.3">ETL)</text>
<line x1="1672.8" y1="444.3" x2="1672.8" y2="452.3" stroke="#000" stroke-width="1.8"/>
<text x="1672.8" y="470.8" font-size="16.5" text-anchor="middle" fill="#000" stroke="#000" stroke-width="0.3">Control</text>
<text x="1672.8" y="491.2" font-size="16.5" text-anchor="middle" fill="#000" stroke="#000" stroke-width="0.3">(TiO2/SnO2</text>
<text x="1672.8" y="511.6" font-size="16.5" text-anchor="middle" fill="#000" stroke="#000" stroke-width="0.3">QDs ETL)</text>
<line x1="1802.6" y1="444.3" x2="1802.6" y2="452.3" stroke="#000" stroke-width="1.8"/>
<text x="1802.6" y="470.8" font-size="16.5" text-anchor="middle" fill="#000" stroke="#000" stroke-width="0.3">DVS</text>
<line x1="1932.4" y1="444.3" x2="1932.4" y2="452.3" stroke="#000" stroke-width="1.8"/>
<text x="1932.4" y="470.8" font-size="16.5" text-anchor="middle" fill="#000" stroke="#000" stroke-width="0.3">DVS-gly</text>
<text transform="translate(1425,253.4) rotate(-90)" font-size="21.2" text-anchor="middle" stroke="#000" stroke-width="0.3">Voc (V)</text>
<text transform="translate(1352.3,41.7) scale(0.977,1)" font-size="50.7" text-anchor="start" stroke="#000" stroke-width="0.55">c</text>
<polygon fill="#fcc1c1" points="102.1,857.2 618.2,626.2 618.2,677.9 102.1,900.3"/>
<polygon fill="#b9e4fd" points="102.1,900.3 618.2,677.9 618.2,710.8 102.1,929.7"/>
<polygon fill="#bcc2fd" points="102.1,929.7 618.2,710.8 618.2,961 102.1,961"/>
<line x1="102.1" y1="857.2" x2="618.2" y2="626.2" stroke="#ff0000" stroke-width="2.1"/>
<line x1="102.1" y1="900.3" x2="618.2" y2="677.9" stroke="#0000ff" stroke-width="2.1" stroke-dasharray="9.6 10.1" stroke-dashoffset="2"/>
<line x1="102.1" y1="929.7" x2="618.2" y2="710.8" stroke="#0899fa" stroke-width="2.1" stroke-dasharray="9.6 10.1" stroke-dashoffset="17"/>
<polygon fill="#ff0000" points="315.3,791.7 317.6,798.7 324.9,798.7 319,803 321.2,810 315.3,805.7 309.4,810 311.6,803 305.7,798.7 313,798.7"/>
<g fill="#0000ff"><circle cx="315.3" cy="812.3" r="4.9"/><circle cx="310.7" cy="824.7" r="4.9"/><circle cx="325.4" cy="824.7" r="4.9"/><circle cx="360.1" cy="827.1" r="4.9"/><circle cx="390.3" cy="805.9" r="4.9"/><circle cx="415.9" cy="843.2" r="4.9"/><circle cx="305.8" cy="849.4" r="4.9"/><circle cx="310.7" cy="861.9" r="4.9"/><circle cx="272" cy="870.6" r="4.9"/></g>
<rect x="102.1" y="589.8" width="516.1" height="371.2" fill="none" stroke="#000" stroke-width="1.9"/>
<line x1="102.1" y1="961" x2="102.1" y2="969" stroke="#000" stroke-width="1.8"/>
<text x="102.1" y="986.4" font-size="16.5" text-anchor="middle" fill="#000" stroke="#000" stroke-width="0.3">1.45</text>
<line x1="166.6" y1="961" x2="166.6" y2="965.3" stroke="#000" stroke-width="1.8"/>
<line x1="231.1" y1="961" x2="231.1" y2="969" stroke="#000" stroke-width="1.8"/>
<text x="231.1" y="986.4" font-size="16.5" text-anchor="middle" fill="#000" stroke="#000" stroke-width="0.3">1.50</text>
<line x1="295.6" y1="961" x2="295.6" y2="965.3" stroke="#000" stroke-width="1.8"/>
<line x1="360.2" y1="961" x2="360.2" y2="969" stroke="#000" stroke-width="1.8"/>
<text x="360.2" y="986.4" font-size="16.5" text-anchor="middle" fill="#000" stroke="#000" stroke-width="0.3">1.55</text>
<line x1="424.7" y1="961" x2="424.7" y2="965.3" stroke="#000" stroke-width="1.8"/>
<line x1="489.2" y1="961" x2="489.2" y2="969" stroke="#000" stroke-width="1.8"/>
<text x="489.2" y="986.4" font-size="16.5" text-anchor="middle" fill="#000" stroke="#000" stroke-width="0.3">1.60</text>
<line x1="553.7" y1="961" x2="553.7" y2="965.3" stroke="#000" stroke-width="1.8"/>
<line x1="618.2" y1="961" x2="618.2" y2="969" stroke="#000" stroke-width="1.8"/>
<text x="618.2" y="986.4" font-size="16.5" text-anchor="middle" fill="#000" stroke="#000" stroke-width="0.3">1.65</text>
<line x1="94.1" y1="961" x2="102.1" y2="961" stroke="#000" stroke-width="1.8"/>
<text x="88.4" y="966.2" font-size="16.5" text-anchor="end" fill="#000" stroke="#000" stroke-width="0.3">1.1</text>
<line x1="97.8" y1="899.1" x2="102.1" y2="899.1" stroke="#000" stroke-width="1.8"/>
<line x1="94.1" y1="837.3" x2="102.1" y2="837.3" stroke="#000" stroke-width="1.8"/>
<text x="88.4" y="842.5" font-size="16.5" text-anchor="end" fill="#000" stroke="#000" stroke-width="0.3">1.2</text>
<line x1="97.8" y1="775.4" x2="102.1" y2="775.4" stroke="#000" stroke-width="1.8"/>
<line x1="94.1" y1="713.5" x2="102.1" y2="713.5" stroke="#000" stroke-width="1.8"/>
<text x="88.4" y="718.7" font-size="16.5" text-anchor="end" fill="#000" stroke="#000" stroke-width="0.3">1.3</text>
<line x1="97.8" y1="651.7" x2="102.1" y2="651.7" stroke="#000" stroke-width="1.8"/>
<line x1="94.1" y1="589.8" x2="102.1" y2="589.8" stroke="#000" stroke-width="1.8"/>
<text x="88.4" y="595" font-size="16.5" text-anchor="end" fill="#000" stroke="#000" stroke-width="0.3">1.4</text>
<text x="360.5" y="1016.6" font-size="20.5" text-anchor="middle" fill="#000" stroke="#000" stroke-width="0.3">Bandgap (eV)</text>
<text transform="translate(52,775.5) rotate(-90)" font-size="20.5" text-anchor="middle" stroke="#000" stroke-width="0.3">V<tspan font-size="14" dy="4.5">OC</tspan><tspan dy="-4.5"> (V)</tspan></text>
<polygon fill="#ff0000" points="142,601.7 144.3,608.7 151.6,608.7 145.7,613 147.9,620 142,615.7 136.1,620 138.3,613 132.4,608.7 139.7,608.7"/>
<circle cx="142" cy="635.9" r="4.9" fill="#0000ff"/>
<text x="170.2" y="617.8" font-size="20.3" text-anchor="start" fill="#000" stroke="#000" stroke-width="0.3">This work</text>
<text x="170.2" y="642.7" font-size="20.3" text-anchor="start" fill="#000" stroke="#000" stroke-width="0.3">Literature</text>
<text transform="translate(545.4,648.8) rotate(-25.5)" font-size="20" text-anchor="middle" fill="#ff0000" stroke="#ff0000" stroke-width="0.3">SQ limit</text>
<text transform="translate(557.6,692.5) rotate(-25.5)" font-size="20" text-anchor="middle" fill="#0000ff" stroke="#0000ff" stroke-width="0.3">97%</text>
<text transform="translate(572.6,723) rotate(-25.5)" font-size="20" text-anchor="middle" fill="#0899fa" stroke="#0899fa" stroke-width="0.3">95%</text>
<text transform="translate(1.6,573.1) scale(0.963,1)" font-size="56" text-anchor="start" stroke="#000" stroke-width="0.5">d</text>
<clipPath id="ce"><rect x="789.9" y="590.8" width="518.9" height="380.2"/></clipPath>
<g clip-path="url(#ce)">
<polyline fill="none" stroke="#000" stroke-width="2.0" stroke-linejoin="round" points="789.9,951 794.6,951 904.6,951 908.4,951 942.5,951 1008.7,951 1031,951 1038.7,951 1141.8,938.4 1201.7,925.8 1244.1,917.9 1272.6,911.5 1293.5,909.2 1309.3,907.2"/>
<g fill="url(#gK)"><circle cx="794.6" cy="951" r="5.1"/><circle cx="904.6" cy="951" r="5.1"/><circle cx="908.4" cy="951" r="5.1"/><circle cx="942.5" cy="951" r="5.1"/><circle cx="1008.7" cy="951" r="5.1"/><circle cx="1031" cy="951" r="5.1"/><circle cx="1038.7" cy="951" r="5.1"/><circle cx="1141.8" cy="938.4" r="5.1"/><circle cx="1201.7" cy="925.8" r="5.1"/><circle cx="1244.1" cy="917.9" r="5.1"/><circle cx="1272.6" cy="911.5" r="5.1"/><circle cx="1293.5" cy="909.2" r="5.1"/><circle cx="1309.3" cy="907.2" r="5.1"/></g>
<polyline fill="none" stroke="#ff0000" stroke-width="2.0" stroke-linejoin="round" points="789.9,951 854.6,951 926.2,951 1004.5,849.7 1085.5,783.6 1159.3,721.8 1227.6,675.1 1276.7,646.9 1308.8,634.2"/>
<g fill="url(#gR)"><circle cx="854.6" cy="951" r="5.1"/><circle cx="926.2" cy="951" r="5.1"/><circle cx="1004.5" cy="849.7" r="5.1"/><circle cx="1085.5" cy="783.6" r="5.1"/><circle cx="1159.3" cy="721.8" r="5.1"/><circle cx="1227.6" cy="675.1" r="5.1"/><circle cx="1276.7" cy="646.9" r="5.1"/></g>
</g>
<line x1="1198.6" y1="689" x2="1214.2" y2="689" stroke="#ff8c00" stroke-width="2.0"/>
<line x1="1206.4" y1="681.2" x2="1206.4" y2="696.8" stroke="#ff8c00" stroke-width="2.0"/>
<line x1="1196.7" y1="926.3" x2="1212.3" y2="926.3" stroke="#ff8c00" stroke-width="2.0"/>
<line x1="1204.5" y1="918.5" x2="1204.5" y2="934.1" stroke="#ff8c00" stroke-width="2.0"/>
<text x="1130.4" y="677" font-size="16" text-anchor="middle" fill="#ff0000" stroke="#ff0000" stroke-width="0.3">13.11%</text>
<text x="1200.4" y="915.8" font-size="16" text-anchor="middle" fill="#000" stroke="#000" stroke-width="0.3">1.28%</text>
<rect x="789.9" y="590.8" width="518.9" height="380.2" fill="none" stroke="#000" stroke-width="1.9"/>
<line x1="789.9" y1="971" x2="789.9" y2="979" stroke="#000" stroke-width="1.8"/>
<line x1="842" y1="971" x2="842" y2="975.3" stroke="#000" stroke-width="1.8"/>
<line x1="872.4" y1="971" x2="872.4" y2="975.3" stroke="#000" stroke-width="1.8"/>
<line x1="894" y1="971" x2="894" y2="975.3" stroke="#000" stroke-width="1.8"/>
<line x1="910.8" y1="971" x2="910.8" y2="975.3" stroke="#000" stroke-width="1.8"/>
<line x1="924.5" y1="971" x2="924.5" y2="975.3" stroke="#000" stroke-width="1.8"/>
<line x1="936.1" y1="971" x2="936.1" y2="975.3" stroke="#000" stroke-width="1.8"/>
<line x1="946.1" y1="971" x2="946.1" y2="975.3" stroke="#000" stroke-width="1.8"/>
<line x1="955" y1="971" x2="955" y2="975.3" stroke="#000" stroke-width="1.8"/>
<line x1="962.9" y1="971" x2="962.9" y2="979" stroke="#000" stroke-width="1.8"/>
<line x1="1014.9" y1="971" x2="1014.9" y2="975.3" stroke="#000" stroke-width="1.8"/>
<line x1="1045.4" y1="971" x2="1045.4" y2="975.3" stroke="#000" stroke-width="1.8"/>
<line x1="1067" y1="971" x2="1067" y2="975.3" stroke="#000" stroke-width="1.8"/>
<line x1="1083.8" y1="971" x2="1083.8" y2="975.3" stroke="#000" stroke-width="1.8"/>
<line x1="1097.5" y1="971" x2="1097.5" y2="975.3" stroke="#000" stroke-width="1.8"/>
<line x1="1109" y1="971" x2="1109" y2="975.3" stroke="#000" stroke-width="1.8"/>
<line x1="1119.1" y1="971" x2="1119.1" y2="975.3" stroke="#000" stroke-width="1.8"/>
<line x1="1127.9" y1="971" x2="1127.9" y2="975.3" stroke="#000" stroke-width="1.8"/>
<line x1="1135.8" y1="971" x2="1135.8" y2="979" stroke="#000" stroke-width="1.8"/>
<line x1="1187.9" y1="971" x2="1187.9" y2="975.3" stroke="#000" stroke-width="1.8"/>
<line x1="1218.4" y1="971" x2="1218.4" y2="975.3" stroke="#000" stroke-width="1.8"/>
<line x1="1240" y1="971" x2="1240" y2="975.3" stroke="#000" stroke-width="1.8"/>
<line x1="1256.7" y1="971" x2="1256.7" y2="975.3" stroke="#000" stroke-width="1.8"/>
<line x1="1270.4" y1="971" x2="1270.4" y2="975.3" stroke="#000" stroke-width="1.8"/>
<line x1="1282" y1="971" x2="1282" y2="975.3" stroke="#000" stroke-width="1.8"/>
<line x1="1292" y1="971" x2="1292" y2="975.3" stroke="#000" stroke-width="1.8"/>
<line x1="1300.9" y1="971" x2="1300.9" y2="975.3" stroke="#000" stroke-width="1.8"/>
<line x1="1308.8" y1="971" x2="1308.8" y2="979" stroke="#000" stroke-width="1.8"/>
<text x="789.9" y="996.5" font-size="16.5" text-anchor="middle" fill="#000" stroke="#000" stroke-width="0.3">0.1</text>
<text x="962.9" y="996.5" font-size="16.5" text-anchor="middle" fill="#000" stroke="#000" stroke-width="0.3">1</text>
<text x="1135.8" y="996.5" font-size="16.5" text-anchor="middle" fill="#000" stroke="#000" stroke-width="0.3">10</text>
<text x="1308.8" y="996.5" font-size="16.5" text-anchor="middle" fill="#000" stroke="#000" stroke-width="0.3">100</text>
<line x1="785.6" y1="971" x2="789.9" y2="971" stroke="#000" stroke-width="1.8"/>
<line x1="781.9" y1="951" x2="789.9" y2="951" stroke="#000" stroke-width="1.8"/>
<text x="775.7" y="956.2" font-size="16.5" text-anchor="end" fill="#000" stroke="#000" stroke-width="0.3">0</text>
<line x1="785.6" y1="931" x2="789.9" y2="931" stroke="#000" stroke-width="1.8"/>
<line x1="781.9" y1="911" x2="789.9" y2="911" stroke="#000" stroke-width="1.8"/>
<text x="775.7" y="916.2" font-size="16.5" text-anchor="end" fill="#000" stroke="#000" stroke-width="0.3">2</text>
<line x1="785.6" y1="891" x2="789.9" y2="891" stroke="#000" stroke-width="1.8"/>
<line x1="781.9" y1="870.9" x2="789.9" y2="870.9" stroke="#000" stroke-width="1.8"/>
<text x="775.7" y="876.1" font-size="16.5" text-anchor="end" fill="#000" stroke="#000" stroke-width="0.3">4</text>
<line x1="785.6" y1="850.9" x2="789.9" y2="850.9" stroke="#000" stroke-width="1.8"/>
<line x1="781.9" y1="830.9" x2="789.9" y2="830.9" stroke="#000" stroke-width="1.8"/>
<text x="775.7" y="836.1" font-size="16.5" text-anchor="end" fill="#000" stroke="#000" stroke-width="0.3">6</text>
<line x1="785.6" y1="810.9" x2="789.9" y2="810.9" stroke="#000" stroke-width="1.8"/>
<line x1="781.9" y1="790.9" x2="789.9" y2="790.9" stroke="#000" stroke-width="1.8"/>
<text x="775.7" y="796.1" font-size="16.5" text-anchor="end" fill="#000" stroke="#000" stroke-width="0.3">8</text>
<line x1="785.6" y1="770.9" x2="789.9" y2="770.9" stroke="#000" stroke-width="1.8"/>
<line x1="781.9" y1="750.9" x2="789.9" y2="750.9" stroke="#000" stroke-width="1.8"/>
<text x="775.7" y="756.1" font-size="16.5" text-anchor="end" fill="#000" stroke="#000" stroke-width="0.3">10</text>
<line x1="785.6" y1="730.9" x2="789.9" y2="730.9" stroke="#000" stroke-width="1.8"/>
<line x1="781.9" y1="710.9" x2="789.9" y2="710.9" stroke="#000" stroke-width="1.8"/>
<text x="775.7" y="716.1" font-size="16.5" text-anchor="end" fill="#000" stroke="#000" stroke-width="0.3">12</text>
<line x1="785.6" y1="690.9" x2="789.9" y2="690.9" stroke="#000" stroke-width="1.8"/>
<line x1="781.9" y1="670.8" x2="789.9" y2="670.8" stroke="#000" stroke-width="1.8"/>
<text x="775.7" y="676" font-size="16.5" text-anchor="end" fill="#000" stroke="#000" stroke-width="0.3">14</text>
<line x1="785.6" y1="650.8" x2="789.9" y2="650.8" stroke="#000" stroke-width="1.8"/>
<line x1="781.9" y1="630.8" x2="789.9" y2="630.8" stroke="#000" stroke-width="1.8"/>
<text x="775.7" y="636" font-size="16.5" text-anchor="end" fill="#000" stroke="#000" stroke-width="0.3">16</text>
<line x1="785.6" y1="610.8" x2="789.9" y2="610.8" stroke="#000" stroke-width="1.8"/>
<line x1="781.9" y1="590.8" x2="789.9" y2="590.8" stroke="#000" stroke-width="1.8"/>
<text x="775.7" y="596" font-size="16.5" text-anchor="end" fill="#000" stroke="#000" stroke-width="0.3">18</text>
<text x="1048.8" y="1030.7" font-size="20.8" text-anchor="middle" stroke="#000" stroke-width="0.3">Jsc (mA/cm<tspan font-size="14.5" dy="-8">2</tspan><tspan dy="8">)</tspan></text>
<text transform="translate(745.4,780) rotate(-90)" font-size="20.5" text-anchor="middle" stroke="#000" stroke-width="0.3">EQE<tspan font-size="14.5" dy="4.5">EL</tspan><tspan dy="-4.5"> (%)</tspan></text>
<line x1="807.3" y1="610.9" x2="853.1" y2="610.9" stroke="#000" stroke-width="1.6"/>
<g fill="url(#gK)"><circle cx="830.2" cy="610.9" r="4.9"/></g>
<text x="860" y="617.7" font-size="20" text-anchor="start" fill="#000" stroke="#000" stroke-width="0.3">Control</text>
<line x1="807.3" y1="636.2" x2="853.1" y2="636.2" stroke="#ff0000" stroke-width="1.6"/>
<g fill="url(#gR)"><circle cx="830.2" cy="636.2" r="4.9"/></g>
<text x="860" y="643" font-size="20" text-anchor="start" fill="#000" stroke="#000" stroke-width="0.3">DVS-gly</text>
<text transform="translate(675.3,573.5) scale(1.0,1)" font-size="51" text-anchor="start" stroke="#000" stroke-width="0.3">e</text>
<polyline fill="none" stroke="#000" stroke-width="2.0" stroke-linejoin="round" points="1502.4,839.2 1517.2,841.9 1532.1,848.4 1546.9,853 1561.7,857 1576.5,854.1 1591.4,846.2 1606.2,833.8 1621,819.2 1635.8,805.1 1650.7,790.8 1665.5,776.2 1680.3,762.2 1695.1,748.9 1710,735.1 1724.8,721.4 1739.6,708.4 1754.4,695.9 1769.3,684.1 1784.1,672.7 1798.9,663.5 1813.7,656.5 1828.6,651.4 1843.4,643.2 1858.2,641.1 1873.1,640 1887.9,641.1 1902.7,640.5 1917.5,648.4 1932.4,656.8 1947.2,663"/>
<g fill="url(#gK)"><circle cx="1502.4" cy="839.2" r="5.1"/><circle cx="1517.2" cy="841.9" r="5.1"/><circle cx="1532.1" cy="848.4" r="5.1"/><circle cx="1546.9" cy="853" r="5.1"/><circle cx="1561.7" cy="857" r="5.1"/><circle cx="1576.5" cy="854.1" r="5.1"/><circle cx="1591.4" cy="846.2" r="5.1"/><circle cx="1606.2" cy="833.8" r="5.1"/><circle cx="1621" cy="819.2" r="5.1"/><circle cx="1635.8" cy="805.1" r="5.1"/><circle cx="1650.7" cy="790.8" r="5.1"/><circle cx="1665.5" cy="776.2" r="5.1"/><circle cx="1680.3" cy="762.2" r="5.1"/><circle cx="1695.1" cy="748.9" r="5.1"/><circle cx="1710" cy="735.1" r="5.1"/><circle cx="1724.8" cy="721.4" r="5.1"/><circle cx="1739.6" cy="708.4" r="5.1"/><circle cx="1754.4" cy="695.9" r="5.1"/><circle cx="1769.3" cy="684.1" r="5.1"/><circle cx="1784.1" cy="672.7" r="5.1"/><circle cx="1798.9" cy="663.5" r="5.1"/><circle cx="1813.7" cy="656.5" r="5.1"/><circle cx="1828.6" cy="651.4" r="5.1"/><circle cx="1843.4" cy="643.2" r="5.1"/><circle cx="1858.2" cy="641.1" r="5.1"/><circle cx="1873.1" cy="640" r="5.1"/><circle cx="1887.9" cy="641.1" r="5.1"/><circle cx="1902.7" cy="640.5" r="5.1"/><circle cx="1917.5" cy="648.4" r="5.1"/><circle cx="1932.4" cy="656.8" r="5.1"/><circle cx="1947.2" cy="663" r="5.1"/></g>
<polyline fill="none" stroke="#ff0000" stroke-width="2.0" stroke-linejoin="round" points="1502.4,864.1 1517.2,873.2 1532.1,882.2 1546.9,887.6 1561.7,883 1576.5,880.3 1591.4,871.9 1606.2,862.4 1621,852.7 1635.8,841.9 1650.7,827.3 1665.5,814.1 1680.3,802.4 1695.1,789.7 1710,776.8 1724.8,764.3 1739.6,748.9 1754.4,734.6 1769.3,723.2 1784.1,707.3 1798.9,694.9 1813.7,682.7 1828.6,669.7 1843.4,666.5 1858.2,662.2 1873.1,661.9 1887.9,661.6 1902.7,665.7 1917.5,674.9 1932.4,686.5 1947.2,699.7"/>
<g fill="url(#gR)"><circle cx="1502.4" cy="864.1" r="5.1"/><circle cx="1517.2" cy="873.2" r="5.1"/><circle cx="1532.1" cy="882.2" r="5.1"/><circle cx="1546.9" cy="887.6" r="5.1"/><circle cx="1561.7" cy="883" r="5.1"/><circle cx="1576.5" cy="880.3" r="5.1"/><circle cx="1591.4" cy="871.9" r="5.1"/><circle cx="1606.2" cy="862.4" r="5.1"/><circle cx="1621" cy="852.7" r="5.1"/><circle cx="1635.8" cy="841.9" r="5.1"/><circle cx="1650.7" cy="827.3" r="5.1"/><circle cx="1665.5" cy="814.1" r="5.1"/><circle cx="1680.3" cy="802.4" r="5.1"/><circle cx="1695.1" cy="789.7" r="5.1"/><circle cx="1710" cy="776.8" r="5.1"/><circle cx="1724.8" cy="764.3" r="5.1"/><circle cx="1739.6" cy="748.9" r="5.1"/><circle cx="1754.4" cy="734.6" r="5.1"/><circle cx="1769.3" cy="723.2" r="5.1"/><circle cx="1784.1" cy="707.3" r="5.1"/><circle cx="1798.9" cy="694.9" r="5.1"/><circle cx="1813.7" cy="682.7" r="5.1"/><circle cx="1828.6" cy="669.7" r="5.1"/><circle cx="1843.4" cy="666.5" r="5.1"/><circle cx="1858.2" cy="662.2" r="5.1"/><circle cx="1873.1" cy="661.9" r="5.1"/><circle cx="1887.9" cy="661.6" r="5.1"/><circle cx="1902.7" cy="665.7" r="5.1"/><circle cx="1917.5" cy="674.9" r="5.1"/><circle cx="1932.4" cy="686.5" r="5.1"/><circle cx="1947.2" cy="699.7" r="5.1"/></g>
<rect x="1474.2" y="588.8" width="520.2" height="381.6" fill="none" stroke="#222" stroke-width="1.9"/>
<line x1="1474.2" y1="970.4" x2="1474.2" y2="978.4" stroke="#222" stroke-width="1.8"/>
<text x="1474.2" y="996.8" font-size="17" text-anchor="middle" fill="#000" stroke="#000" stroke-width="0.3">0.30</text>
<line x1="1536.1" y1="970.4" x2="1536.1" y2="974.7" stroke="#222" stroke-width="1.8"/>
<line x1="1598" y1="970.4" x2="1598" y2="978.4" stroke="#222" stroke-width="1.8"/>
<text x="1598" y="996.8" font-size="17" text-anchor="middle" fill="#000" stroke="#000" stroke-width="0.3">0.35</text>
<line x1="1659.9" y1="970.4" x2="1659.9" y2="974.7" stroke="#222" stroke-width="1.8"/>
<line x1="1721.8" y1="970.4" x2="1721.8" y2="978.4" stroke="#222" stroke-width="1.8"/>
<text x="1721.8" y="996.8" font-size="17" text-anchor="middle" fill="#000" stroke="#000" stroke-width="0.3">0.40</text>
<line x1="1783.7" y1="970.4" x2="1783.7" y2="974.7" stroke="#222" stroke-width="1.8"/>
<line x1="1845.6" y1="970.4" x2="1845.6" y2="978.4" stroke="#222" stroke-width="1.8"/>
<text x="1845.6" y="996.8" font-size="17" text-anchor="middle" fill="#000" stroke="#000" stroke-width="0.3">0.45</text>
<line x1="1907.5" y1="970.4" x2="1907.5" y2="974.7" stroke="#222" stroke-width="1.8"/>
<line x1="1969.4" y1="970.4" x2="1969.4" y2="978.4" stroke="#222" stroke-width="1.8"/>
<text x="1969.4" y="996.8" font-size="17" text-anchor="middle" fill="#000" stroke="#000" stroke-width="0.3">0.50</text>
<line x1="1469.9" y1="970.2" x2="1474.2" y2="970.2" stroke="#222" stroke-width="1.8"/>
<line x1="1469.9" y1="954.4" x2="1474.2" y2="954.4" stroke="#222" stroke-width="1.8"/>
<line x1="1469.9" y1="942" x2="1474.2" y2="942" stroke="#222" stroke-width="1.8"/>
<line x1="1469.9" y1="932" x2="1474.2" y2="932" stroke="#222" stroke-width="1.8"/>
<line x1="1469.9" y1="923.5" x2="1474.2" y2="923.5" stroke="#222" stroke-width="1.8"/>
<line x1="1469.9" y1="916.1" x2="1474.2" y2="916.1" stroke="#222" stroke-width="1.8"/>
<line x1="1469.9" y1="909.6" x2="1474.2" y2="909.6" stroke="#222" stroke-width="1.8"/>
<line x1="1466.2" y1="903.8" x2="1474.2" y2="903.8" stroke="#222" stroke-width="1.8"/>
<line x1="1469.9" y1="865.6" x2="1474.2" y2="865.6" stroke="#222" stroke-width="1.8"/>
<line x1="1469.9" y1="843.2" x2="1474.2" y2="843.2" stroke="#222" stroke-width="1.8"/>
<line x1="1469.9" y1="827.3" x2="1474.2" y2="827.3" stroke="#222" stroke-width="1.8"/>
<line x1="1469.9" y1="815" x2="1474.2" y2="815" stroke="#222" stroke-width="1.8"/>
<line x1="1469.9" y1="804.9" x2="1474.2" y2="804.9" stroke="#222" stroke-width="1.8"/>
<line x1="1469.9" y1="796.4" x2="1474.2" y2="796.4" stroke="#222" stroke-width="1.8"/>
<line x1="1469.9" y1="789.1" x2="1474.2" y2="789.1" stroke="#222" stroke-width="1.8"/>
<line x1="1469.9" y1="782.6" x2="1474.2" y2="782.6" stroke="#222" stroke-width="1.8"/>
<text x="1461.5" y="910" font-size="16" text-anchor="end" stroke="#000" stroke-width="0.3">10<tspan font-size="11.5" dy="-7.5">16</tspan></text>
<line x1="1466.2" y1="776.8" x2="1474.2" y2="776.8" stroke="#222" stroke-width="1.8"/>
<line x1="1469.9" y1="738.5" x2="1474.2" y2="738.5" stroke="#222" stroke-width="1.8"/>
<line x1="1469.9" y1="716.1" x2="1474.2" y2="716.1" stroke="#222" stroke-width="1.8"/>
<line x1="1469.9" y1="700.3" x2="1474.2" y2="700.3" stroke="#222" stroke-width="1.8"/>
<line x1="1469.9" y1="687.9" x2="1474.2" y2="687.9" stroke="#222" stroke-width="1.8"/>
<line x1="1469.9" y1="677.9" x2="1474.2" y2="677.9" stroke="#222" stroke-width="1.8"/>
<line x1="1469.9" y1="669.4" x2="1474.2" y2="669.4" stroke="#222" stroke-width="1.8"/>
<line x1="1469.9" y1="662" x2="1474.2" y2="662" stroke="#222" stroke-width="1.8"/>
<line x1="1469.9" y1="655.5" x2="1474.2" y2="655.5" stroke="#222" stroke-width="1.8"/>
<text x="1461.5" y="783" font-size="16" text-anchor="end" stroke="#000" stroke-width="0.3">10<tspan font-size="11.5" dy="-7.5">17</tspan></text>
<line x1="1466.2" y1="649.7" x2="1474.2" y2="649.7" stroke="#222" stroke-width="1.8"/>
<line x1="1469.9" y1="611.5" x2="1474.2" y2="611.5" stroke="#222" stroke-width="1.8"/>
<line x1="1469.9" y1="589.1" x2="1474.2" y2="589.1" stroke="#222" stroke-width="1.8"/>
<text x="1461.5" y="655.9" font-size="16" text-anchor="end" stroke="#000" stroke-width="0.3">10<tspan font-size="11.5" dy="-7.5">18</tspan></text>
<text x="1733.5" y="1029.6" font-size="20.8" text-anchor="middle" stroke="#000" stroke-width="0.3"><tspan font-family='"Liberation Serif", serif' font-size="22">Eω</tspan> (eV)</text>
<text transform="translate(1417.6,779.5) rotate(-90)" font-size="20.5" text-anchor="middle" stroke="#000" stroke-width="0.3">N<tspan font-size="14.5" dy="4.5">t</tspan><tspan dy="-4.5"> (cm</tspan><tspan font-size="14.5" dy="-7.5">-3</tspan><tspan dy="7.5">eV</tspan><tspan font-size="14.5" dy="-7.5">-1</tspan><tspan dy="7.5">)</tspan></text>
<line x1="1507.2" y1="620.8" x2="1552" y2="620.8" stroke="#000" stroke-width="1.6"/>
<g fill="url(#gK)"><circle cx="1529.5" cy="620.8" r="4.9"/></g>
<text x="1558.7" y="627.8" font-size="20" text-anchor="start" fill="#000" stroke="#000" stroke-width="0.3">Control</text>
<line x1="1507.2" y1="645.7" x2="1552" y2="645.7" stroke="#ff0000" stroke-width="1.6"/>
<g fill="url(#gR)"><circle cx="1529.5" cy="645.7" r="4.9"/></g>
<text x="1558.7" y="652.7" font-size="20" text-anchor="start" fill="#000" stroke="#000" stroke-width="0.3">DVS-gly</text>
<text transform="translate(1352.6,576.2) scale(1.2,1)" font-size="55" text-anchor="start" stroke="#000" stroke-width="0.3">f</text>
</svg></body></html>
